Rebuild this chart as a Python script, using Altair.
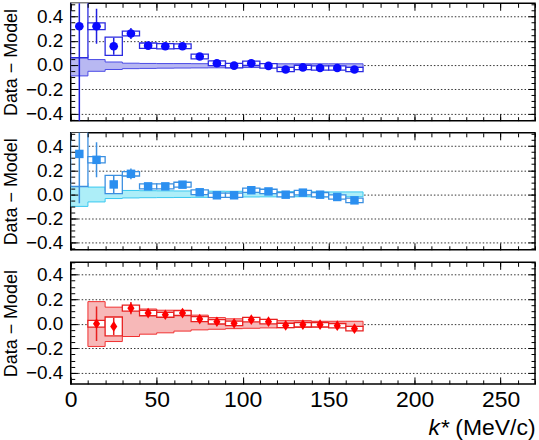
import altair as alt
import pandas as pd

BIN_WIDTH = 10

# ---------------- data ----------------
K12 = [5, 15, 25, 35, 45, 55, 65, 75, 85, 95, 105, 115, 125, 135, 145, 155, 165]
K3 = [15, 25, 35, 45, 55, 65, 75, 85, 95, 105, 115, 125, 135, 145, 155, 165]

# panel 1 (blue circles)
V1 = [0.32, 0.32, 0.155, 0.26, 0.16, 0.155, 0.155, 0.07, 0.015, -0.005, 0.014, -0.007, -0.037, -0.02, -0.025, -0.025, -0.037]
STAT1 = [0.8, 0.145, 0.07, 0.045, 0.02, 0.015, 0.012, 0.01, 0.01, 0.01, 0.01, 0.01, 0.01, 0.01, 0.01, 0.01, 0.01]
SYS1 = [0.26, 0.028, 0.076, 0.02, 0.022, 0.022, 0.02, 0.02, 0.02, 0.018, 0.018, 0.018, 0.018, 0.018, 0.018, 0.018, 0.018]
BAND_UP1 = [0.085, 0.045, 0.025, 0.015, 0.013, 0.012, 0.012, 0.011, 0.011, 0.01, 0.01, 0.01, 0.01, 0.01, 0.01, 0.01, 0.01]
BAND_LO1 = [-0.09, -0.052, -0.037, -0.03, -0.028, -0.026, -0.025, -0.024, -0.023, -0.022, -0.021, -0.02, -0.02, -0.02, -0.02, -0.02, -0.02]

# panel 2 (light-blue squares)
V2 = [0.335, 0.286, 0.082, 0.17, 0.066, 0.066, 0.08, 0.017, -0.008, -0.008, 0.034, 0.024, -0.003, 0.014, -0.003, -0.022, -0.05]
STAT2 = [0.41, 0.145, 0.07, 0.045, 0.02, 0.015, 0.012, 0.01, 0.01, 0.01, 0.01, 0.01, 0.01, 0.01, 0.01, 0.01, 0.01]
SYS2 = [0.27, 0.026, 0.076, 0.018, 0.02, 0.02, 0.02, 0.02, 0.018, 0.018, 0.018, 0.018, 0.018, 0.018, 0.018, 0.018, 0.018]
BAND_UP2 = [0.094, 0.06, 0.03, 0.032, 0.03, 0.029, 0.028, 0.027, 0.026, 0.025, 0.024, 0.023, 0.022, 0.021, 0.02, 0.02, 0.02]
BAND_LO2 = [-0.1, -0.063, -0.035, -0.03, -0.028, -0.027, -0.026, -0.025, -0.024, -0.023, -0.022, -0.021, -0.02, -0.02, -0.02, -0.02, -0.02]

# panel 3 (red diamonds)
V3 = [0.0, -0.022, 0.127, 0.087, 0.073, 0.087, 0.038, 0.016, 0.003, 0.033, 0.017, -0.014, -0.008, -0.008, -0.016, -0.04]
STAT3 = [0.14, 0.07, 0.05, 0.03, 0.025, 0.022, 0.02, 0.018, 0.016, 0.015, 0.015, 0.014, 0.014, 0.014, 0.014, 0.014]
SYS3 = [0.027, 0.077, 0.025, 0.022, 0.02, 0.02, 0.02, 0.018, 0.018, 0.018, 0.018, 0.018, 0.018, 0.018, 0.018, 0.018]
BAND_UP3 = [0.18, 0.135, 0.14, 0.12, 0.11, 0.11, 0.07, 0.05, 0.04, 0.045, 0.035, 0.025, 0.025, 0.02, 0.02, 0.02]
BAND_LO3 = [-0.185, -0.145, -0.104, -0.085, -0.074, -0.06, -0.05, -0.045, -0.04, -0.037, -0.034, -0.032, -0.03, -0.028, -0.026, -0.025]

X_MAJOR = [0, 50, 100, 150, 200, 250]
X_MINOR = [0, 10, 20, 30, 40, 50, 60, 70, 80, 90, 100, 110, 120, 130, 140, 150,
           160, 170, 180, 190, 200, 210, 220, 230, 240, 250, 260, 270]
Y_MAJOR = [-0.4, -0.2, 0.0, 0.2, 0.4]
Y_MINOR = [-0.45, -0.4, -0.35, -0.3, -0.25, -0.2, -0.15, -0.1, -0.05, 0.0,
           0.05, 0.1, 0.15, 0.2, 0.25, 0.3, 0.35, 0.4, 0.45, 0.5]

FONT = "Liberation Sans"
W = 466
MAJ = 7
MIN = 4

DIAMOND = "M0,-1.2L0.8,0L0,1.2L-0.8,0Z"

YLABEL = "datum.value < 0 ? '\u2212' + format(-datum.value, '.1f') : format(datum.value, '.1f')"


def panel(k, v, stat, sys, up, lo, style, height, ydom, last):
    df = pd.DataFrame({"k": k, "v": v, "stat": stat, "sys": sys})
    df["lo"] = df["v"] - df["stat"]
    df["hi"] = df["v"] + df["stat"]
    df["slo"] = df["v"] - df["sys"]
    df["shi"] = df["v"] + df["sys"]
    df["x0"] = df["k"] - BIN_WIDTH / 2
    df["x1"] = df["k"] + BIN_WIDTH / 2

    edges = [kk - BIN_WIDTH / 2 for kk in k] + [k[-1] + BIN_WIDTH / 2]
    band = pd.DataFrame({"x": edges, "u": up + [up[-1]], "l": lo + [lo[-1]]})

    xs = alt.Scale(domain=[0, 270], nice=False, zero=False)
    ys = alt.Scale(domain=ydom, nice=False, zero=False)

    band_l = alt.Chart(band).mark_area(
        interpolate="step-after", fill=style["bandfill"], stroke=style["bandstroke"],
        strokeWidth=1, clip=True
    ).encode(
        x=alt.X("x:Q", scale=xs, axis=None),
        y=alt.Y("u:Q", scale=ys, axis=None),
        y2="l:Q",
    )
    boxes = alt.Chart(df).mark_rect(
        fill="white", stroke=style["box"], strokeWidth=1.3, clip=True
    ).encode(
        x=alt.X("x0:Q", scale=xs, axis=None), x2="x1:Q",
        y=alt.Y("slo:Q", scale=ys, axis=None), y2="shi:Q",
    )
    err = alt.Chart(df).mark_rule(color=style["err"], strokeWidth=1.5, clip=True).encode(
        x=alt.X("k:Q", scale=xs, axis=None),
        y=alt.Y("lo:Q", scale=ys, axis=None), y2="hi:Q",
    )
    pts = alt.Chart(df).mark_point(
        filled=True, shape=style["shape"], size=style["size"], color=style["marker"], opacity=1
    ).encode(
        x=alt.X("k:Q", scale=xs, axis=None),
        y=alt.Y("v:Q", scale=ys, axis=None),
    )

    def ax_layer(xaxis, yaxis):
        return alt.Chart(df).mark_point(opacity=0).encode(
            x=alt.X("k:Q", scale=xs, axis=xaxis),
            y=alt.Y("v:Q", scale=ys, axis=yaxis),
        )

    common = dict(domain=False, grid=False, tickColor="black", tickWidth=1, zindex=1)

    grid = ax_layer(None, alt.Axis(orient="left", values=Y_MAJOR, grid=True, ticks=False,
                                   labels=False, domain=False, title=None,
                                   gridDash=[1.5, 2], gridColor="#333333", gridWidth=1, zindex=0))

    xb_major = alt.Axis(orient="bottom", values=X_MAJOR, offset=-MAJ, tickSize=MAJ,
                        labels=last, labelPadding=5, labelFontSize=23, labelColor="black",
                        labelFont=FONT, labelFlush=False, labelOverlap=False,
                        title="(MeV/c)" if last else None,
                        titleFont=FONT, titleFontSize=23, titleFontWeight="normal", titleColor="black",
                        titleX=W, titleY=51 + MAJ, titleAlign="right", titleBaseline="alphabetic",
                        **common)
    xb_minor = alt.Axis(orient="bottom", values=X_MINOR, offset=-MIN, tickSize=MIN, labels=False,
                        title="k*" if last else None,
                        titleFont=FONT, titleFontSize=23, titleFontWeight="normal", titleFontStyle="italic",
                        titleColor="black", titleX=W - 87, titleY=51 + MIN, titleAlign="right",
                        titleBaseline="alphabetic",
                        **common)
    xt_major = alt.Axis(orient="top", values=X_MAJOR, offset=-MAJ, tickSize=MAJ, labels=False, title=None, **common)
    xt_minor = alt.Axis(orient="top", values=X_MINOR, offset=-MIN, tickSize=MIN, labels=False, title=None, **common)

    yl_major = alt.Axis(orient="left", values=Y_MAJOR, offset=-MAJ, tickSize=MAJ,
                        labelExpr=YLABEL, labelPadding=8, labelFontSize=19, labelFont=FONT,
                        labelColor="black", labelFlush=False, labelOverlap=False,
                        title="Data \u2212 Model", titleFont=FONT, titleFontSize=18,
                        titleFontWeight="normal", titleColor="black",
                        titleX=-57.5, titleY=height / 2, titleAngle=270,
                        titleAlign="center", titleBaseline="bottom",
                        **common)
    yl_minor = alt.Axis(orient="left", values=Y_MINOR, offset=-MIN, tickSize=MIN, labels=False, title=None, **common)
    yr_major = alt.Axis(orient="right", values=Y_MAJOR, offset=-MAJ, tickSize=MAJ, labels=False, title=None, **common)
    yr_minor = alt.Axis(orient="right", values=Y_MINOR, offset=-MIN, tickSize=MIN, labels=False, title=None, **common)

    layers = [
        grid, band_l, boxes, err, pts,
        ax_layer(xb_major, yl_major),
        ax_layer(xb_minor, yl_minor),
        ax_layer(xt_major, yr_major),
        ax_layer(xt_minor, yr_minor),
    ]
    return alt.layer(*layers).resolve_axis(x="independent", y="independent").properties(
        width=W, height=height
    )


S1 = dict(bandfill="#b8b8f2", bandstroke="#4a4ae6", box="#2a2ae0", err="#2020e0",
          marker="#0a0aff", shape="circle", size=75)
S2 = dict(bandfill="#adeef8", bandstroke="#38c8f0", box="#3b8fe0", err="#3b8fe0",
          marker="#2b8ff0", shape="square", size=72)
S3 = dict(bandfill="#f7b8b8", bandstroke="#f03030", box="#e82020", err="#e82020",
          marker="#ff0000", shape=DIAMOND, size=80)

p1 = panel(K12, V1, STAT1, SYS1, BAND_UP1, BAND_LO1, S1, 117.8, [-0.46, 0.51], False)
p2 = panel(K12, V2, STAT2, SYS2, BAND_UP2, BAND_LO2, S2, 117.4, [-0.46, 0.51], False)
p3 = panel(K3, V3, STAT3, SYS3, BAND_UP3, BAND_LO3, S3, 122, [-0.49, 0.5], True)

chart = alt.vconcat(p1, p2, p3, spacing=12, bounds="flush").properties(
    padding={"left": 1, "top": 0.5, "right": 2, "bottom": 1}, background="white"
).configure(font=FONT).configure_view(stroke="black", strokeWidth=1.5)

chart.save("out.html", embed_options={"renderer": "svg", "actions": False})
